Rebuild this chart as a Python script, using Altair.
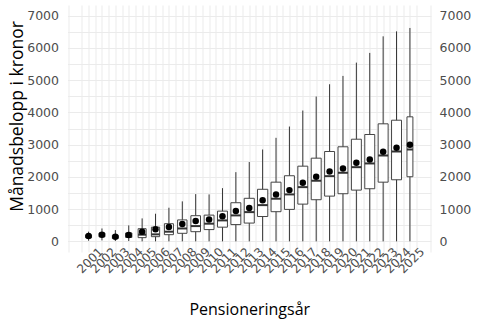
import altair as alt
import pandas as pd

years = [2001, 2002, 2003, 2004, 2005, 2006, 2007, 2008, 2009, 2010, 2011, 2012, 2013,
         2014, 2015, 2016, 2017, 2018, 2019, 2020, 2021, 2022, 2023, 2024, 2025]
# relative group size (box width follows sqrt of group size, as in a varwidth box plot)
group_size = [16, 16, 16, 18, 29, 31, 37, 40, 42, 44, 45, 45, 46,
              48, 45, 45, 45, 45, 45, 45, 45, 45, 45, 45, 16]
whisker_low = [20, 30, 10, 10, 0, 0, 0, 0, 0, 0, 0, 0, 0,
               0, 0, 0, 0, 0, 0, 0, 0, 0, 0, 0, 0]
q1 = [110, 140, 90, 120, 115, 145, 207, 250, 300, 365, 440, 520, 567,
      770, 920, 991, 1155, 1291, 1403, 1477, 1589, 1632, 1836, 1910, 2004]
median = [150, 190, 130, 170, 207, 217, 300, 400, 474, 548, 650, 805, 907,
          1124, 1322, 1456, 1682, 1880, 2022, 2127, 2301, 2416, 2663, 2787, 2849]
q3 = [200, 260, 190, 260, 393, 440, 548, 665, 796, 814, 938, 1198, 1335,
      1615, 1836, 2035, 2332, 2580, 2787, 2933, 3168, 3314, 3645, 3757, 3862]
whisker_high = [300, 400, 350, 495, 712, 857, 1043, 1240, 1465, 1456, 1650, 2146, 2460,
                2849, 3211, 3561, 4057, 4491, 4872, 5131, 5543, 5844, 6358, 6513, 6618]
mean = [164, 207, 145, 195, 300, 372, 443, 540, 629, 676, 780, 944, 1037,
        1275, 1456, 1589, 1818, 2004, 2168, 2261, 2437, 2540, 2778, 2902, 2995]

df = pd.DataFrame({
    "year": years, "n": group_size, "lo": whisker_low, "q1": q1, "med": median,
    "q3": q3, "hi": whisker_high, "mean": mean,
})

FONT = "DejaVu Sans"
TFONT = "Open Sans"

x_minor_values = [1999.5 + 1.0 * i for i in range(28)]
y_grid_values = [500 * i for i in range(15)]

xscale = alt.Scale(domain=[1999.8, 2026.2], nice=False, zero=False)
yscale = alt.Scale(domain=[-330, 7330], nice=False, zero=False)
wscale = alt.Scale(type="sqrt", domain=[0, 50], range=[0, 10.5])

xaxis = alt.Axis(
    orient="bottom", values=years, format="d",
    labelAngle=-45, labelAlign="center", labelBaseline="middle", labelOverlap=False,
    labelPadding=8, labelOffset=1, labelFont=FONT, labelFontSize=12, labelColor="#4D4D4D",
    labelFlush=False, labelBound=False,
    ticks=False, domain=False, grid=True, gridColor="#EBEBEB", gridWidth=1,
    title="Pensioneringsår", titleFont=TFONT, titleFontSize=16, titleFontWeight="normal",
    titleColor="#000000", titleBaseline="alphabetic", titleY=62,
)
xaxis_minor = alt.Axis(
    orient="bottom", values=x_minor_values, labels=False, ticks=False, domain=False,
    grid=True, gridColor="#EBEBEB", gridWidth=1, title="",
)
yaxis_left = alt.Axis(
    values=y_grid_values, format="d",
    labelExpr="datum.value % 1000 == 0 ? datum.label : ''",
    labelFont=FONT, labelFontSize=12.5, labelColor="#4D4D4D", labelPadding=9,
    ticks=False, domain=False, grid=True, gridColor="#EBEBEB", gridWidth=1,
    title="Månadsbelopp i kronor", titleFont=TFONT, titleFontSize=17.5, titleFontWeight="normal",
    titleColor="#000000", titleBaseline="alphabetic", titleAngle=270, titleAlign="center",
    titleX=-45, titleY=111,
)
yaxis_right = alt.Axis(
    orient="right", values=y_grid_values, format="d",
    labelExpr="datum.value % 1000 == 0 ? datum.label : ''",
    labelFont=FONT, labelFontSize=12.5, labelColor="#4D4D4D", labelPadding=8,
    ticks=False, domain=False, grid=False, title="",
)

base = alt.Chart(df)

X = alt.X("year:Q", scale=xscale, axis=xaxis)
W = alt.Size("n:Q", scale=wscale, legend=None)

whiskers = base.mark_rule(color="#333333", strokeWidth=1).encode(
    x=X,
    y=alt.Y("lo:Q", scale=yscale, axis=yaxis_left),
    y2="hi:Q",
)
boxes = base.mark_bar(fill="white", stroke="#444444", strokeWidth=1).encode(
    x=X,
    y=alt.Y("q1:Q", scale=yscale, axis=yaxis_left),
    y2="q3:Q",
    size=W,
)
medians = base.mark_tick(orient="horizontal", thickness=2, color="#333333", opacity=1).encode(
    x=X,
    y=alt.Y("med:Q", scale=yscale, axis=yaxis_left),
    size=W,
)
means = base.mark_circle(size=42, color="black", opacity=1).encode(
    x=X,
    y=alt.Y("mean:Q", scale=yscale, axis=yaxis_left),
)
right_axis = base.mark_point(opacity=0).encode(
    x=alt.X("year:Q", scale=xscale, axis=xaxis_minor),
    y=alt.Y("mean:Q", scale=yscale, axis=yaxis_right),
)

main = alt.layer(whiskers, boxes, medians, means)
chart = alt.layer(right_axis, main).resolve_axis(y="independent", x="independent").resolve_scale(size="independent").properties(
    width=363.5, height=247,
    autosize=alt.AutoSizeParams(type="none"),
    padding={"left": 67.5, "top": 5, "right": 49, "bottom": 68},
    background="white",
).configure_view(stroke=None)

chart.save("out.html", embed_options={"renderer": "svg", "actions": False})
